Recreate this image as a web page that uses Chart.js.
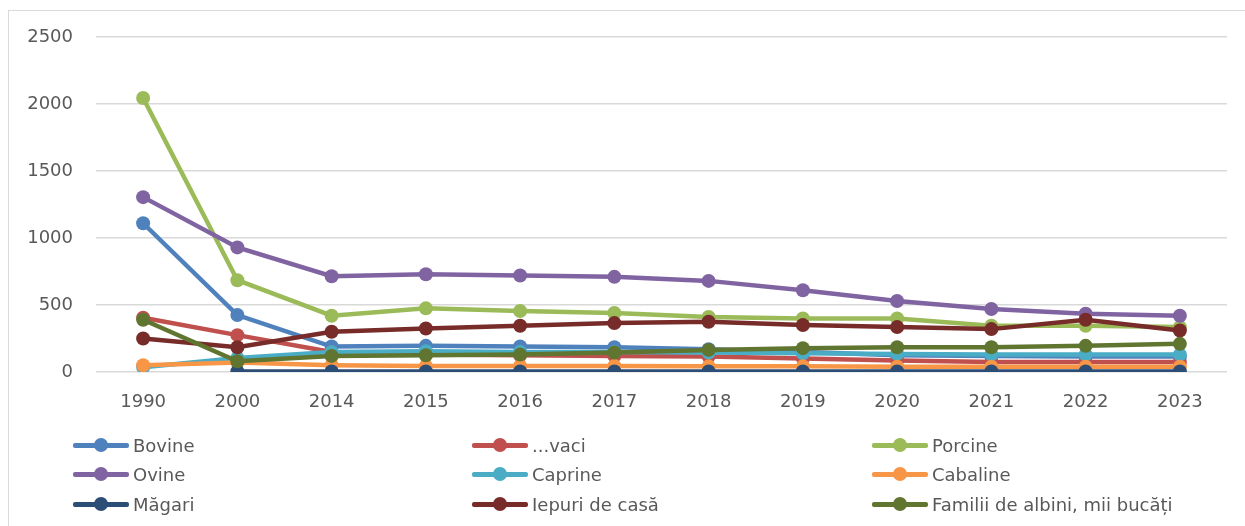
<!DOCTYPE html>
<html>
<head>
<meta charset="utf-8">
<script src="https://cdn.jsdelivr.net/npm/chart.js@4"></script>
<style>
  body { margin: 0; background: #fff; }
  #wrap { position: relative; width: 1245px; height: 526px; overflow: hidden; }
  #frame { position: absolute; left: 8px; top: 10px; width: 1260px; height: 540px; border: 1px solid #d9d9d9; }
  canvas { position: absolute; left: 0; top: 0; }
  #legend { position: absolute; left: 0; top: 0; font-family: "DejaVu Sans", sans-serif; font-size: 18px; color: #595959; }
  .item { position: absolute; height: 20px; line-height: 20px; white-space: nowrap; }
  .mk { position: absolute; left: 0; top: 7px; width: 56px; height: 5px; border-radius: 2px; }
  .dot { position: absolute; left: 21px; top: -5px; width: 14px; height: 14px; border-radius: 50%; }
  .txt { position: absolute; left: 60px; top: 0; }
</style>
</head>
<body>
<div id="wrap">
  <div id="frame"></div>
  <canvas id="myChart" width="1245" height="526"></canvas>
  <div id="legend"></div>
</div>
<script>
/* data */
var years = ["1990", "2000", "2014", "2015", "2016", "2017", "2018", "2019", "2020", "2021", "2022", "2023"];
var seriesNames = ["Bovine", "...vaci", "Porcine", "Ovine", "Caprine", "Cabaline", "Măgari", "Iepuri de casă", "Familii de albini, mii bucăți"];
var bovine   = [1110, 425, 190, 195, 190, 185, 170, 150, 125, 120, 115, 115];
var vaci     = [405, 275, 150, 130, 125, 120, 115, 100, 85, 75, 75, 75];
var porcine  = [2045, 685, 420, 475, 455, 440, 410, 400, 400, 345, 345, 335];
var ovine    = [1305, 930, 715, 730, 720, 710, 680, 610, 530, 470, 435, 420];
var caprine  = [35, 105, 150, 155, 150, 150, 145, 140, 135, 130, 130, 130];
var cabaline = [50, 70, 50, 45, 45, 45, 42, 42, 40, 40, 40, 40];
var magari   = [null, 4, 4, 4, 4, 4, 4, 4, 4, 4, 4, 4];
var iepuri   = [250, 185, 300, 325, 345, 365, 375, 350, 335, 320, 390, 310];
var albini   = [390, 80, 120, 125, 130, 145, 165, 178, 185, 185, 195, 210];
var yTicks = [0, 500, 1000, 1500, 2000, 2500];

var colors = ['#4F81BD', '#C0504D', '#9BBB59', '#8064A2', '#4BACC6', '#F79646', '#2C4D75', '#772C2A', '#5F7530'];
var values = [bovine, vaci, porcine, ovine, caprine, cabaline, magari, iepuri, albini];

var datasets = values.map(function (v, i) {
  return {
    label: seriesNames[i],
    data: v,
    borderColor: colors[i],
    backgroundColor: colors[i],
    borderWidth: 4.5,
    pointRadius: 7,
    pointHoverRadius: 7,
    pointBorderWidth: 0,
    tension: 0,
    order: values.length - i   // later series on top, like the original
  };
});

var ctx = document.getElementById('myChart').getContext('2d');
var chart = new Chart(ctx, {
  type: 'line',
  data: { labels: years, datasets: datasets },
  options: {
    responsive: false,
    animation: false,
    layout: { padding: { left: 0, right: 18, top: 37, bottom: 108 } },
    plugins: { legend: { display: false }, tooltip: { enabled: false } },
    scales: {
      x: {
        offset: true,
        grid: { display: false, drawTicks: false },
        border: { display: false },
        ticks: { padding: 20, color: '#595959', font: { family: 'DejaVu Sans', size: 18 } },
        afterFit: function (scale) { scale.height = 46; }
      },
      y: {
        min: 0,
        max: 2500,
        afterBuildTicks: function (scale) { scale.ticks = yTicks.map(function (t) { return { value: t }; }); },
        grid: { color: '#d9d9d9', lineWidth: 1.5, drawTicks: false },
        border: { display: false },
        ticks: {
          padding: 23, color: '#595959', font: { family: 'DejaVu Sans', size: 18 },
          callback: function (v) { return String(v); }
        },
        afterFit: function (scale) { scale.width = 96; }
      }
    }
  }
});

/* legend in three columns */
var legend = document.getElementById('legend');
var colX = [73, 472, 872];
var rowY = [436, 465, 495];
seriesNames.forEach(function (name, i) {
  var item = document.createElement('div');
  item.className = 'item';
  item.style.left = colX[i % 3] + 'px';
  item.style.top = rowY[Math.floor(i / 3)] + 'px';
  item.innerHTML = '<span class="mk" style="background:' + colors[i] + '"><span class="dot" style="background:' + colors[i] + '"></span></span><span class="txt"></span>';
  item.querySelector('.txt').textContent = name;
  legend.appendChild(item);
});
</script>
</body>
</html>
